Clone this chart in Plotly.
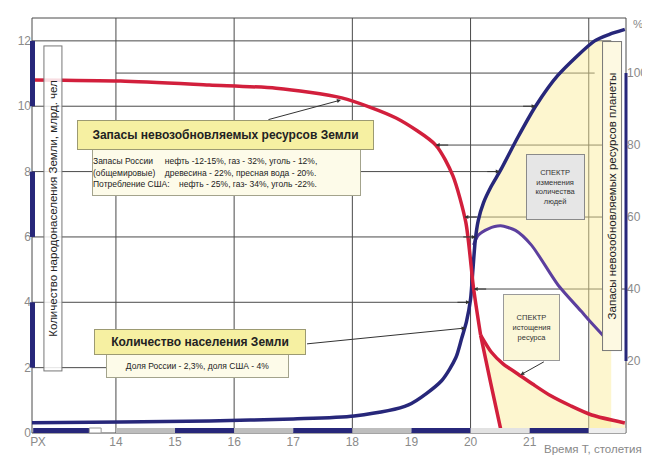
import numpy as np
import plotly.graph_objects as go

# time in centuries; "РХ" is squeezed onto the left edge of the axis
pop_t = [12.58, 14.08, 15.58, 17.0, 18.03, 18.95, 19.51, 19.75, 19.85, 19.93, 20.0, 20.04,
         20.08, 20.13, 20.22, 20.35, 20.51, 20.8, 21.1, 21.48, 22.1, 22.35, 22.61]
pop_bn = [0.31, 0.34, 0.37, 0.43, 0.52, 0.86, 1.6, 2.3, 2.9, 3.4, 4.1, 5.0,
          5.9, 6.5, 7.05, 7.55, 8.05, 9.05, 10.0, 10.95, 12.0, 12.2, 12.35]

# reserves of non-renewable resources, %
res_t = [12.58, 14.08, 15.58, 16.71, 17.82, 18.74, 19.41, 19.7, 19.92, 20.05, 20.17]
res_pct = [98.1, 97.8, 96.7, 95.8, 93.1, 87.5, 80.0, 71.5, 58.5, 40.3, 27.2]
resA_t = [20.17, 20.34, 20.52]
resA_pct = [27.2, 13.9, 0.3]
resB_t = [20.17, 20.35, 20.55, 20.8, 21.05, 21.35, 21.7, 22.05, 22.61]
resB_pct = [27.2, 22.5, 19.2, 16.4, 13.6, 10.4, 7.5, 5.0, 2.8]

# spectrum of the change in number of people
spec_t = [20.05, 20.13, 20.3, 20.51, 20.76, 21.03, 21.48, 21.87, 22.02, 22.28]
spec_v = [5.75, 6.05, 6.25, 6.34, 6.2, 5.75, 4.53, 3.73, 3.42, 2.91]

x_ticks = [12.68, 14, 15, 16, 17, 18, 19, 20, 21]
x_labels = ["РХ", "14", "15", "16", "17", "18", "19", "20", "21"]
left_ticks = [0, 2, 4, 6, 8, 10, 12]
right_ticks = [20, 40, 60, 80, 100]
grid_t = [14, 16, 18, 20, 22]

FONT = "Liberation Sans, Arial, sans-serif"
RED = "#d21f3c"
BLUE = "#27277a"
PURPLE = "#5c3f9e"
GRID = "#4a4a4a"
FILL = "rgba(250,235,148,0.45)"
X0, X1 = 12.58, 22.63


def px(x, y):
    return (x - 22) / 596, (425 - y) / 415


fig = go.Figure()

# yellow area between population curve and spectrum curve
bt = np.array(pop_t)
bv = np.array(pop_bn)
keep = (bt > spec_t[0]) & (bv <= 12)
t_end = float(np.interp(12, bv, bt))
sp_keep = [i for i, t in enumerate(spec_t) if t <= 22.02]
poly_x = [spec_t[0]] + list(bt[keep]) + [t_end, 22.38, 22.38, 22.02] + [spec_t[i] for i in sp_keep[::-1]]
poly_y = [spec_v[0]] + list(bv[keep]) + [12, 12, 0, 0] + [spec_v[i] for i in sp_keep[::-1]]
fig.add_trace(go.Scatter(x=poly_x, y=poly_y, mode="none", fill="toself", fillcolor=FILL,
                         hoverinfo="skip", showlegend=False))

# yellow area under the depletion spectrum
fig.add_trace(go.Scatter(x=resB_t + [resB_t[-1], resA_t[-1]] + resA_t[::-1],
                         y=resB_pct + [0, 0] + resA_pct[::-1],
                         mode="none", fill="toself", fillcolor=FILL, yaxis="y2",
                         hoverinfo="skip", showlegend=False))

line_kw = dict(shape="spline", smoothing=0.7)
fig.add_trace(go.Scatter(x=res_t, y=res_pct, mode="lines", yaxis="y2",
                         line=dict(color=RED, width=3.5, **line_kw), showlegend=False))
fig.add_trace(go.Scatter(x=resA_t, y=resA_pct, mode="lines", yaxis="y2",
                         line=dict(color=RED, width=3.5, **line_kw), showlegend=False))
fig.add_trace(go.Scatter(x=resB_t, y=resB_pct, mode="lines", yaxis="y2",
                         line=dict(color=RED, width=3.5, **line_kw), showlegend=False))
fig.add_trace(go.Scatter(x=spec_t, y=spec_v, mode="lines",
                         line=dict(color=PURPLE, width=3, **line_kw), showlegend=False))
fig.add_trace(go.Scatter(x=pop_t, y=pop_bn, mode="lines",
                         line=dict(color=BLUE, width=3.5, **line_kw), showlegend=False))

shapes = []
# frame
shapes.append(dict(type="rect", xref="paper", yref="paper", x0=0, x1=1, y0=0, y1=1,
                   line=dict(color=GRID, width=1), layer="below"))
for t in grid_t:
    shapes.append(dict(type="line", xref="x", yref="paper", x0=t, x1=t, y0=0, y1=1,
                       line=dict(color=GRID, width=1), layer="below"))

# horizontal lines of the population scale, running to the curve
arrows = []
for lvl in left_ticks[1:]:
    if lvl == 12:
        end = 22.38
    elif lvl == 2:
        end = 13.85
    else:
        end = float(np.interp(lvl, bv, bt))
        arrows.append((end, lvl, "y", -14))
    shapes.append(dict(type="line", xref="x", yref="y", x0=X0, x1=end, y0=lvl, y1=lvl,
                       line=dict(color=GRID, width=1), layer="below"))

# horizontal lines of the reserves scale, from the right axis to the curve
rt = np.array(res_t)[::-1]
rp = np.array(res_pct)[::-1]
for lvl in right_ticks[1:]:
    if lvl == 100:
        start, end = 14, 22.1
    else:
        start = float(np.interp(lvl, rp, rt))
        end = X1 if lvl == 40 else 22.38
        arrows.append((start, lvl, "y2", 14))
    shapes.append(dict(type="line", xref="x", yref="y2", x0=start, x1=end, y0=lvl, y1=lvl,
                       line=dict(color=GRID, width=1), layer="below"))

# century scale bar along the bottom
bar_h = 5 / 415
segs = [(12.6, 13.55, BLUE), (14, 15, "#bdbdbd"), (15, 16, BLUE), (16, 17, "#bdbdbd"),
        (17, 18, BLUE), (18, 19, "#bdbdbd"), (19, 20, BLUE), (20, 21, "#e2e2e2"),
        (21, 22, BLUE), (22, 22.62, "#eeeeee")]
for a, b, c in segs:
    shapes.append(dict(type="rect", xref="x", yref="paper", x0=a, x1=b, y0=0, y1=bar_h,
                       fillcolor=c, line=dict(width=0)))
shapes.append(dict(type="rect", xref="x", yref="paper", x0=13.55, x1=13.75, y0=0, y1=bar_h,
                   fillcolor="white", line=dict(color="#999", width=1)))

# scale bars on the side axes
for a, b in [(10, 12), (6, 8), (2, 4)]:
    shapes.append(dict(type="rect", xref="paper", yref="y", x0=-2 / 596, x1=3 / 596, y0=a, y1=b,
                       fillcolor=BLUE, line=dict(width=0)))
shapes.append(dict(type="line", xref="paper", yref="y2", x0=1, x1=1, y0=20, y1=100,
                   line=dict(color=BLUE, width=3)))

fig.update_layout(shapes=shapes)

for x, y, yref, ax in arrows:
    fig.add_annotation(x=x, y=y, xref="x", yref=yref, text="", showarrow=True,
                       ax=ax, ay=0, arrowhead=2, arrowsize=0.8, arrowwidth=1, arrowcolor="#333")


def box(text, x0, y0, x1, y1, bg, border, size, color="#222", angle=0, align="center"):
    cx, cy = px((x0 + x1) / 2, (y0 + y1) / 2)
    w, h = x1 - x0, y1 - y0
    if angle:
        w, h = h, w
    fig.add_annotation(x=cx, y=cy, xref="paper", yref="paper", text=text, showarrow=False,
                       width=w - 2, height=h - 2, bgcolor=bg, bordercolor=border, borderwidth=1,
                       borderpad=0, textangle=angle, align=align, valign="middle",
                       xanchor="center", yanchor="middle",
                       font=dict(family=FONT, size=size, color=color))


def pointer(xt, yt, xs, ys):
    x, y = px(xt, yt)
    fig.add_annotation(x=x, y=y, xref="paper", yref="paper", text="", showarrow=True,
                       ax=xs - xt, ay=ys - yt, arrowhead=2, arrowsize=0.8, arrowwidth=1,
                       arrowcolor="#333")


pointer(332, 92, 258, 112)
pointer(457, 320, 297, 336)
pointer(512, 367, 537, 353)

nb = "\u00a0"
box("Количество народонаселения Земли, млрд. чел", 33, 37, 52, 363,
    "rgba(255,255,255,0.85)", "#777", 11.5, angle=-90)
box("Запасы невозобновляемых ресурсов планеты", 594, 33, 614, 343,
    "#fdf9e2", "#777", 11.5, angle=-90)
box("Запасы России" + nb * 5 + "нефть -12-15%, газ - 32%, уголь - 12%,<br>"
    "(общемировые)" + nb * 4 + "древесина - 22%, пресная вода - 20%.<br>"
    "Потребление США:" + nb * 4 + "нефть - 25%, газ- 34%, уголь -22%.",
    83, 141, 352, 188, "#fdfbe9", "#a3a38c", 8.5, align="left")
box("<b>Запасы невозобновляемых ресурсов Земли</b>", 68, 112, 365, 142,
    "#f6f0a2", "#9c9a72", 12)
box("Доля России - 2,3%, доля США - 4%", 97, 345, 280, 370, "#fdfbe9", "#a3a38c", 8.5)
box("<b>Количество населения Земли</b>", 85, 321, 297, 347, "#f6f0a2", "#9c9a72", 12)
box("СПЕКТР<br>изменения<br>количества<br>людей", 518, 146, 577, 212,
    "#e6e6e6", "#8a8a8a", 7.5, color="#333")
box("СПЕКТР<br>истощения<br>ресурса", 495, 286, 552, 353,
    "#fbf7d8", "#9a9a9a", 7.5, color="#333")

for text, x, y in [("Время Т, столетия", 585, 441), ("%", 630, 16)]:
    ax_, ay_ = px(x, y)
    fig.add_annotation(x=ax_, y=ay_, xref="paper", yref="paper", text=text, showarrow=False,
                       xanchor="center", yanchor="middle",
                       font=dict(family=FONT, size=11.5, color="#888"))

tick_font = dict(family=FONT, size=12, color="#8a8a8a")
fig.update_layout(
    width=650, height=456,
    margin=dict(l=22, r=32, t=10, b=31),
    paper_bgcolor="white", plot_bgcolor="white",
    showlegend=False,
    xaxis=dict(range=[X0, X1], tickvals=x_ticks, ticktext=x_labels, showgrid=False,
               zeroline=False, showline=False, ticks="", tickfont=tick_font),
    yaxis=dict(range=[0, 12.7], tickvals=left_ticks, showgrid=False, zeroline=False,
               showline=False, ticks="", tickfont=tick_font),
    yaxis2=dict(range=[0, 115.3], tickvals=right_ticks, overlaying="y", side="right",
                showgrid=False, zeroline=False, showline=False, ticks="", tickfont=tick_font),
)

fig.write_html("out.html")
